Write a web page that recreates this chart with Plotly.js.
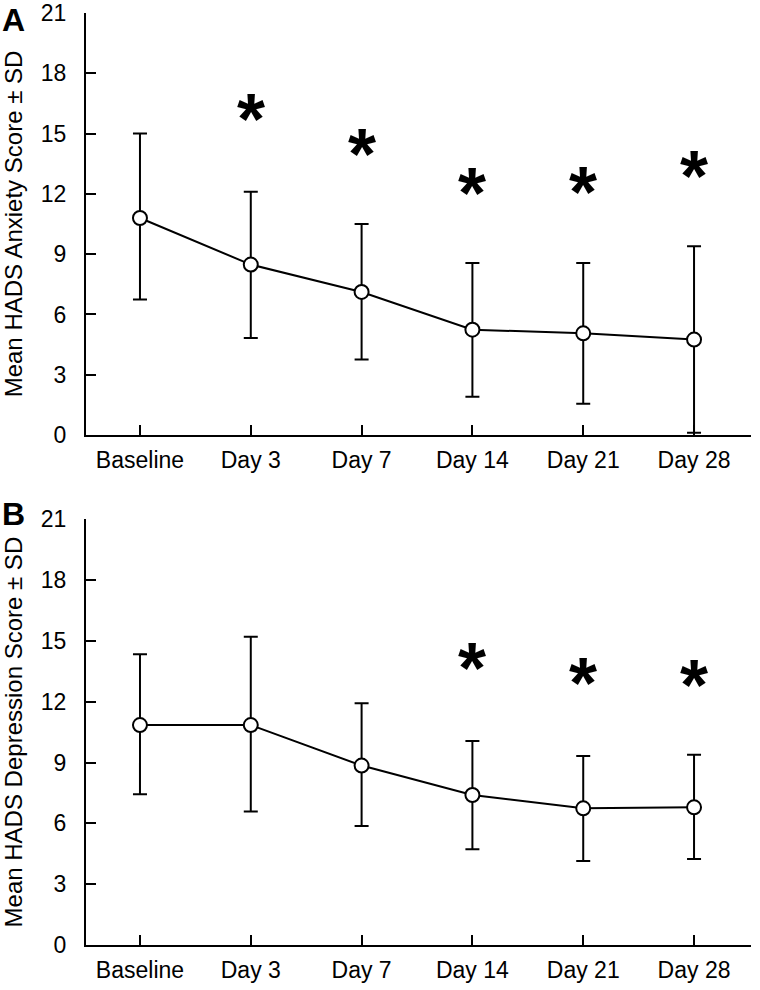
<!DOCTYPE html>
<html>
<head>
<meta charset="utf-8">
<script src="https://cdn.plot.ly/plotly-3.0.1.min.js"></script>
<style>html,body{margin:0;padding:0;background:#fff;}#chart{width:760px;height:990px;}</style>
</head>
<body>
<div id="chart"></div>
<script>
// ---- data ----
var categories = ['Baseline', 'Day 3', 'Day 7', 'Day 14', 'Day 21', 'Day 28'];

// Panel A: HADS anxiety
var anxietyMean  = [10.8, 8.48, 7.12, 5.24, 5.06, 4.75];
var anxietyUpper = [15.0, 12.11, 10.5, 8.56, 8.56, 9.39];
var anxietyLower = [6.74, 4.83, 3.76, 1.91, 1.56, 0.11];
var anxietyStarCats = ['Day 3', 'Day 7', 'Day 14', 'Day 21', 'Day 28'];
var anxietyStarY    = [16.2, 14.48, 12.52, 12.6, 13.39];

// Panel B: HADS depression
var depressionMean  = [10.85, 10.85, 8.85, 7.4, 6.74, 6.79];
var depressionUpper = [14.34, 15.21, 11.92, 10.06, 9.32, 9.39];
var depressionLower = [7.43, 6.58, 5.87, 4.72, 4.14, 4.24];
var depressionStarCats = ['Day 14', 'Day 21', 'Day 28'];
var depressionStarY    = [14.14, 13.4, 13.32];

var yTickVals = [0, 3, 6, 9, 12, 15, 18, 21];
var panelLabels = ['A', 'B'];
var yTitles = ['Mean HADS Anxiety Score \u00b1 SD', 'Mean HADS Depression Score \u00b1 SD'];

// ---- build ----
function diff(a, b) { return a.map(function (v, i) { return v - b[i]; }); }

function seriesTrace(mean, upper, lower, xa, ya) {
  return {
    type: 'scatter', mode: 'lines+markers',
    x: categories, y: mean, xaxis: xa, yaxis: ya,
    line: {color: '#000', width: 2},
    marker: {symbol: 'circle', size: 14, color: '#fff', line: {color: '#000', width: 2}},
    error_y: {type: 'data', symmetric: false,
      array: diff(upper, mean), arrayminus: diff(mean, lower),
      color: '#000', thickness: 2, width: 7},
    showlegend: false, hoverinfo: 'skip', cliponaxis: false
  };
}

var data = [
  seriesTrace(anxietyMean, anxietyUpper, anxietyLower, 'x', 'y'),
  seriesTrace(depressionMean, depressionUpper, depressionLower, 'x2', 'y2')
];

var font = 'Liberation Sans, Arial, Helvetica, sans-serif';
var starFont = {family: font, size: 72, color: '#000'};
var starShift = -10;
var annotations = [];
anxietyStarCats.forEach(function (c, i) {
  annotations.push({x: c, y: anxietyStarY[i], xref: 'x', yref: 'y', text: '<b>*</b>',
    showarrow: false, xanchor: 'center', yanchor: 'middle', yshift: starShift, font: starFont});
});
depressionStarCats.forEach(function (c, i) {
  annotations.push({x: c, y: depressionStarY[i], xref: 'x2', yref: 'y2', text: '<b>*</b>',
    showarrow: false, xanchor: 'center', yanchor: 'middle', yshift: starShift, font: starFont});
});

var domA = [0.5472, 1], domB = [0, 0.4568];
var labelFont = {family: font, size: 32, color: '#000'};
annotations.push({x: -0.129, y: domA[1], xref: 'paper', yref: 'paper', xanchor: 'left', yanchor: 'top',
  yshift: 13, text: '<b>' + panelLabels[0] + '</b>', showarrow: false, font: labelFont});
annotations.push({x: -0.129, y: domB[1], xref: 'paper', yref: 'paper', xanchor: 'left', yanchor: 'top',
  yshift: 25, text: '<b>' + panelLabels[1] + '</b>', showarrow: false, font: labelFont});

function xAxis(anchor) {
  return {
    type: 'category', anchor: anchor, range: [-0.487, 5.514],
    showline: true, linecolor: '#000', linewidth: 2,
    ticks: 'inside', ticklen: 10, tickwidth: 2, tickcolor: '#000',
    showgrid: false, zeroline: false, fixedrange: true,
    tickfont: {family: font, size: 23, color: '#000'}, ticklabelstandoff: 3
  };
}
function yAxis(anchor, domain, title) {
  return {
    anchor: anchor, domain: domain, range: [0, 21],
    tickvals: yTickVals, ticktext: yTickVals.map(String),
    showline: true, linecolor: '#000', linewidth: 2,
    ticks: 'inside', ticklen: 10, tickwidth: 2, tickcolor: '#000',
    showgrid: false, zeroline: false, fixedrange: true, ticklabeloverflow: 'allow',
    tickfont: {family: font, size: 23, color: '#000'}, ticklabelstandoff: 13,
    automargin: 'left',
    title: {text: title, standoff: 16, font: {family: font, size: 24, color: '#000'}}
  };
}

var layout = {
  width: 760, height: 990,
  margin: {l: 86, r: 9, t: 13, b: 45},
  paper_bgcolor: '#fff', plot_bgcolor: '#fff',
  xaxis: xAxis('y'),
  yaxis: yAxis('x', domA, yTitles[0]),
  xaxis2: xAxis('y2'),
  yaxis2: yAxis('x2', domB, yTitles[1]),
  annotations: annotations
};

Plotly.newPlot('chart', data, layout, {staticPlot: true});
</script>
</body>
</html>
